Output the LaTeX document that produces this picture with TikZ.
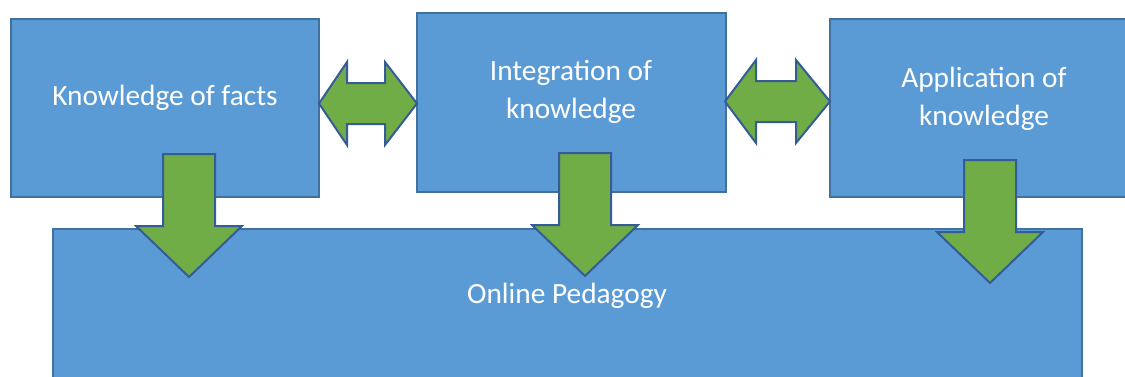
\documentclass[tikz,border=0pt]{standalone}
\usepackage{fontspec}
\setmainfont{Carlito}
\usetikzlibrary{positioning}
\definecolor{BoxBlue}{RGB}{91,155,213}
\definecolor{BoxEdge}{RGB}{65,113,156}
\definecolor{ArrowGreen}{RGB}{112,173,71}
\definecolor{ArrowEdge}{RGB}{52,92,150}

\begin{document}
\begin{tikzpicture}[x=0.75pt, y=-0.75pt,
	blk/.style={rectangle, draw=BoxEdge, line width=1.5pt, fill=BoxBlue, inner sep=0pt},
	txt/.style={text=white, align=center, font=\fontsize{22}{28.5}\selectfont},
	blockarrow/.style={draw=ArrowEdge, line width=1.5pt, fill=ArrowGreen, line join=miter}]
	\useasboundingbox (0,0) rectangle (1125,376);
	\clip (0,0) rectangle (1125,376);
	% las tres cajas de arriba y la de abajo
	\node[blk, minimum width=231pt, minimum height=133.5pt] (facts) at (165,108) {};
	\node[blk, minimum width=231.75pt, minimum height=134.25pt] (integ) at (571.5,102.5) {};
	\node[blk, minimum width=231.75pt, minimum height=133.5pt] (appl) at (984.5,108) {};
	\node[blk, minimum width=771.75pt, minimum height=120.75pt] (online) at (567.5,309.5) {};
	\node[txt] (factsT) at (165,98) {Knowledge of facts};
	\node[txt] (integT) at (571,92) {Integration of\\knowledge};
	\node[txt] (applT) at (984,98.5) {Application of\\knowledge};
	\node[txt] (onlineT) at (567,296) {Online Pedagogy};
	% flechas dobles entre cajas: punta izq/base izq/base der/punta der/centro
	\foreach \l/\bl/\br/\r/\c in {319/347/385/417/103.5, 725/756/796/830/101.5}{
		\draw[blockarrow] (\l,\c) -- (\bl,\c-41.5) -- (\bl,\c-20.5) -- (\br,\c-20.5)
			-- (\br,\c-41.5) -- (\r,\c) -- (\br,\c+41.5) -- (\br,\c+20.5)
			-- (\bl,\c+20.5) -- (\bl,\c+41.5) -- cycle;}
	% flechas hacia abajo
	\foreach \cx/\ty in {189/154, 585/153, 990/160}{
		\draw[blockarrow] (\cx-26,\ty) -- (\cx+26,\ty) -- (\cx+26,\ty+72)
			-- (\cx+53,\ty+72) -- (\cx,\ty+123) -- (\cx-53,\ty+72)
			-- (\cx-26,\ty+72) -- cycle;}
\end{tikzpicture}
\end{document}
